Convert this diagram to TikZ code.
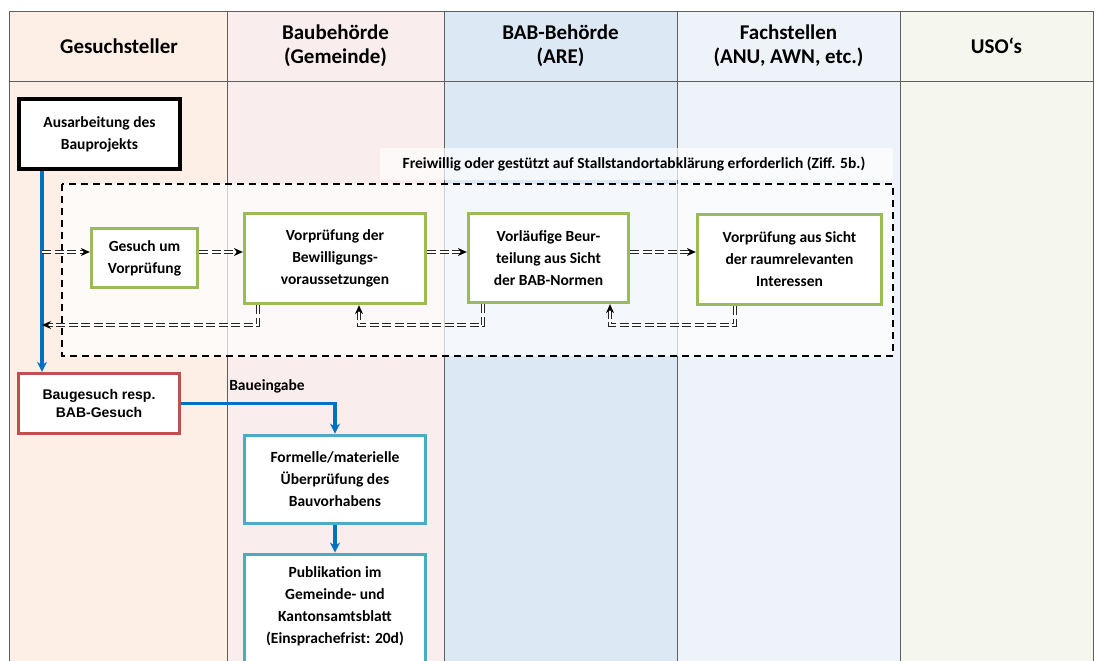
\documentclass[tikz,border=0pt]{standalone}
\usepackage{fontspec}
\setmainfont{Carlito}
\newfontfamily\arialfont{Liberation Sans}
\usetikzlibrary{arrows.meta}

\definecolor{laneA}{HTML}{FDEFE6}
\definecolor{laneB}{HTML}{F9EDED}
\definecolor{laneC}{HTML}{DDE8F5}
\definecolor{laneD}{HTML}{EEF3FA}
\definecolor{laneE}{HTML}{F5F7EE}
\definecolor{frame}{HTML}{5F5F5F}
\definecolor{okgreen}{HTML}{9BBB59}
\definecolor{redbox}{HTML}{C0504D}
\definecolor{cyanbox}{HTML}{4BACC6}
\definecolor{flowblue}{HTML}{0070C0}

\tikzset{
  lanesep/.style={draw=frame, line width=0.9pt},
  head/.style={font=\bfseries\fontsize{21}{24}\selectfont, align=center},
  box/.style={draw, fill=white, align=center, inner sep=2pt,
    font=\bfseries\fontsize{15.5}{22}\selectfont},
  blackbox/.style={box, line width=3.8pt, draw=black},
  greenbox/.style={box, line width=3.3pt, draw=okgreen},
  redbox/.style={box, line width=3.3pt, draw=redbox,
    font=\arialfont\bfseries\fontsize{14}{18}\selectfont},
  cyanbox/.style={box, line width=3.8pt, draw=cyanbox},
  flow/.style={draw=flowblue, line width=3.5pt,
    -{Stealth[length=10pt,width=10pt]}},
  dbl/.style={draw=white, line width=1.7pt, dash pattern=on 9pt off 3.5pt,
    preaction={draw=black!85, line width=4.3pt, dash pattern=on 9pt off 3.5pt}},
  tip/.style={draw=black, line width=1pt, dash pattern=on 0pt off 2000pt,
    -{Stealth[length=9pt,width=8pt]}},
  lbl/.style={font=\bfseries\fontsize{15.5}{18}\selectfont},
}

\begin{document}
\begin{tikzpicture}[x=1pt,y=-1pt]
\clip (0,0) rectangle (1095,661);
\fill[white] (0,0) rectangle (1095,661);

% swim lanes
\fill[laneA] (9,11) rectangle (227,670);
\fill[laneB] (227,11) rectangle (444,670);
\fill[laneC] (444,11) rectangle (677,670);
\fill[laneD] (677,11) rectangle (900,670);
\fill[laneE] (900,11) rectangle (1093,670);
\draw[lanesep] (9,670) -- (9,11) -- (1093,11) -- (1093,670);
\draw[lanesep] (9,81) -- (1093,81);
\foreach \x in {227,444,677,900} \draw[lanesep] (\x,11) -- (\x,670);

\node[head] (h1) at (119,46) {Gesuchsteller};
\node[head] (h2) at (335.5,46) {Baubehörde\\(Gemeinde)};
\node[head] (h3) at (560.5,46) {BAB-Behörde\\(ARE)};
\node[head] (h4) at (788.5,46) {Fachstellen\\(ANU, AWN, etc.)};
\node[head] (h5) at (996.5,46) {USO‘s};

% optional pre-check region
\fill[white, opacity=0.7] (62,184) rectangle (893,356);
\draw[line width=2.3pt, dash pattern=on 7pt off 5pt] (62,184) rectangle (893,356);
\fill[white, opacity=0.7] (380,148) rectangle (893,180);
\node[lbl] (note) at (634,164) {Freiwillig oder gestützt auf Stallstandortabklärung erforderlich (Ziff. 5b.)};

% process steps
\node[blackbox, minimum width=161pt, minimum height=70pt] (aus) at (99.5,134) {Ausarbeitung des\\Bauprojekts};
\node[greenbox, minimum width=106pt, minimum height=59pt] (ges) at (144.5,258) {Gesuch um\\Vorprüfung};
\node[greenbox, minimum width=181pt, minimum height=90pt] (vbew) at (335,258.5) {Vorprüfung der\\Bewilligungs-\\voraussetzungen};
\node[greenbox, minimum width=160pt, minimum height=89pt] (vbab) at (548.5,258) {Vorläufige Beur-\\teilung aus Sicht\\der BAB-Normen};
\node[greenbox, minimum width=184pt, minimum height=90pt] (vraum) at (789.5,259.5) {Vorprüfung aus Sicht\\der raumrelevanten\\Interessen};
\node[redbox, minimum width=161pt, minimum height=60pt] (bau) at (99,403.5) {Baugesuch resp.\\BAB-Gesuch};
\node[cyanbox, minimum width=181pt, minimum height=88pt] (form) at (335,479.5) {Formelle/materielle\\Überprüfung des\\Bauvorhabens};
\node[cyanbox, minimum width=181pt, minimum height=150pt, anchor=north] (pub) at (335,552.5) {};
\node[box, draw=none, fill=none] (pubtxt) at (335,606.5) {Publikation im\\Gemeinde- und\\Kantonsamtsblatt\\(Einsprachefrist: 20d)};

% helper points
\coordinate (spine) at (42,0);
\coordinate (row) at (0,252);
\coordinate (back) at (0,325);
\coordinate (c1) at (258,0);
\coordinate (c2) at (359,0);
\coordinate (c3) at (483,0);
\coordinate (c4) at (610,0);
\coordinate (c5) at (735,0);
\coordinate (drop) at (335,0);

% main flow
\draw[flow] (aus.south -| spine) -- (bau.north -| spine);
\draw[flow] (bau.east) -| (form.north -| drop);
\draw[flow] (form.south) -- (pub.north);
\node[lbl] (ein) at (267,386) {Baueingabe};

% pre-check requests
\draw[dbl, shorten >=6pt] (spine |- row) -- (ges.west |- row);
\draw[tip] (spine |- row) -- (ges.west |- row);
\draw[dbl, shorten >=6pt] (ges.east |- row) -- (vbew.west |- row);
\draw[tip] (ges.east |- row) -- (vbew.west |- row);
\draw[dbl, shorten >=6pt] (vbew.east |- row) -- (vbab.west |- row);
\draw[tip] (vbew.east |- row) -- (vbab.west |- row);
\draw[dbl, shorten >=6pt] (vbab.east |- row) -- (vraum.west |- row);
\draw[tip] (vbab.east |- row) -- (vraum.west |- row);

% pre-check answers
\draw[dbl, shorten >=6pt] (vbew.south -| c1) |- (spine |- back);
\draw[tip] (vbew.south -| c1) |- (spine |- back);
\draw[dbl, shorten >=6pt] (vbab.south -| c3) -- (c3 |- back) -| (vbew.south -| c2);
\draw[tip] (vbab.south -| c3) -- (c3 |- back) -| (vbew.south -| c2);
\draw[dbl, shorten >=6pt] (vraum.south -| c5) -- (c5 |- back) -| (vbab.south -| c4);
\draw[tip] (vraum.south -| c5) -- (c5 |- back) -| (vbab.south -| c4);
\end{tikzpicture}
\end{document}
